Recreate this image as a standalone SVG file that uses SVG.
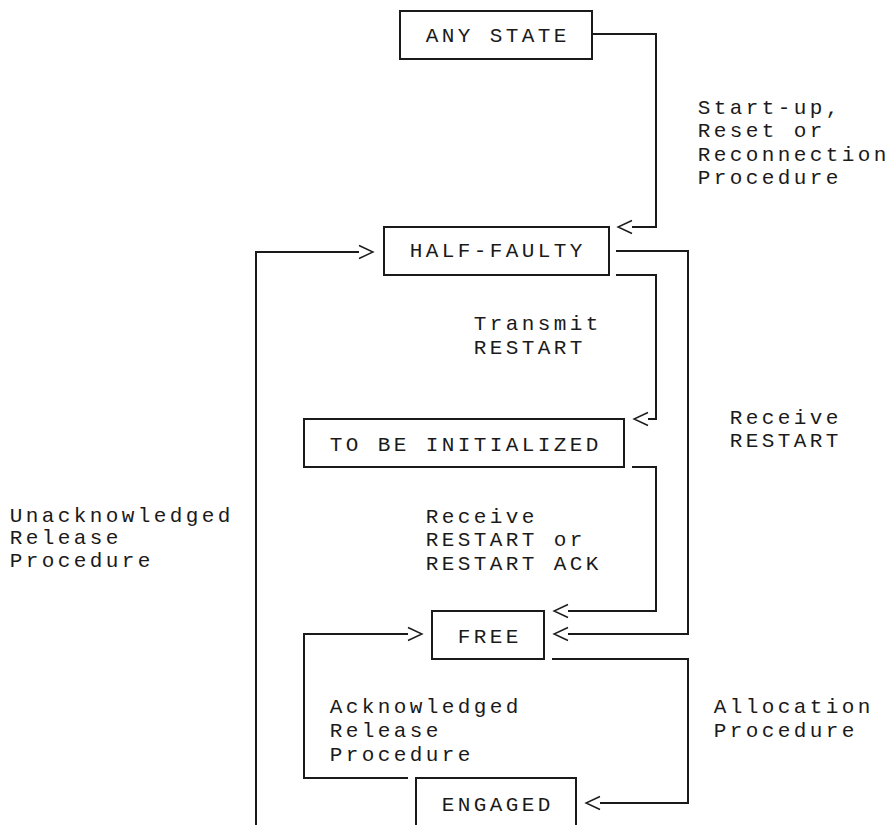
<svg xmlns="http://www.w3.org/2000/svg" width="888" height="825" viewBox="0 0 888 825">
<style>
  .bg{fill:#ffffff}
  .box{fill:none;stroke:#1a1a1a;stroke-width:2}
  .ln{fill:none;stroke:#1a1a1a;stroke-width:2}
  .t{font-family:"Liberation Mono","DejaVu Sans Mono",monospace;font-size:21px;letter-spacing:3.4px;fill:#1a1a1a}
</style>
<defs>
  <marker id="chev" markerUnits="userSpaceOnUse" markerWidth="20" markerHeight="20" refX="0" refY="0" orient="auto" viewBox="-2 -10 20 20" overflow="visible">
    <polyline points="0,-6.5 14,0 0,6.5" fill="none" stroke="#1a1a1a" stroke-width="1.4"/>
  </marker>
</defs>
<rect class="bg" x="0" y="0" width="888" height="825"/>

<g id="connectors">
  <path class="ln" d="M592,34 H656 V227 H632" marker-end="url(#chev)"/>
  <path class="ln" d="M616,275 H656 V419 H648" marker-end="url(#chev)"/>
  <path class="ln" d="M616,251 H688 V634 H568" marker-end="url(#chev)"/>
  <path class="ln" d="M632,467 H656 V611 H568" marker-end="url(#chev)"/>
  <path class="ln" d="M552,659 H688 V803 H600" marker-end="url(#chev)"/>
  <path class="ln" d="M408,778 H304 V634 H408" marker-end="url(#chev)"/>
  <path class="ln" d="M256,826 V252 H359" marker-end="url(#chev)"/>
  <g id="labels">
    <text class="t" x="697.7" y="114">Start-up,</text>
    <text class="t" x="697.7" y="137">Reset or</text>
    <text class="t" x="697.7" y="161">Reconnection</text>
    <text class="t" x="697.7" y="184">Procedure</text>
    <text class="t" x="473.7" y="330">Transmit</text>
    <text class="t" x="473.7" y="354">RESTART</text>
    <text class="t" x="729.7" y="424">Receive</text>
    <text class="t" x="729.7" y="447">RESTART</text>
    <text class="t" x="9.7" y="522">Unacknowledged</text>
    <text class="t" x="9.7" y="544">Release</text>
    <text class="t" x="9.7" y="567">Procedure</text>
    <text class="t" x="425.7" y="523">Receive</text>
    <text class="t" x="425.7" y="546">RESTART or</text>
    <text class="t" x="425.7" y="570">RESTART ACK</text>
    <text class="t" x="329.7" y="713">Acknowledged</text>
    <text class="t" x="329.7" y="737">Release</text>
    <text class="t" x="329.7" y="761">Procedure</text>
    <text class="t" x="713.7" y="713">Allocation</text>
    <text class="t" x="713.7" y="737">Procedure</text>
  </g>
</g>

<g id="any-state">
  <rect class="box" x="400" y="11" width="192" height="48"/>
  <text class="t" x="425.7" y="42">ANY STATE</text>
</g>
<g id="half-faulty">
  <rect class="box" x="384" y="227" width="225" height="48"/>
  <text class="t" x="409.7" y="257">HALF-FAULTY</text>
</g>
<g id="to-be-initialized">
  <rect class="box" x="304" y="419" width="320" height="48"/>
  <text class="t" x="329.7" y="451">TO BE INITIALIZED</text>
</g>
<g id="free">
  <rect class="box" x="432" y="611" width="112" height="48"/>
  <text class="t" x="457.7" y="643">FREE</text>
</g>
<g id="engaged">
  <path class="box" d="M416,826 V778 H576 V826"/>
  <text class="t" x="441.7" y="811">ENGAGED</text>
</g>
</svg>
